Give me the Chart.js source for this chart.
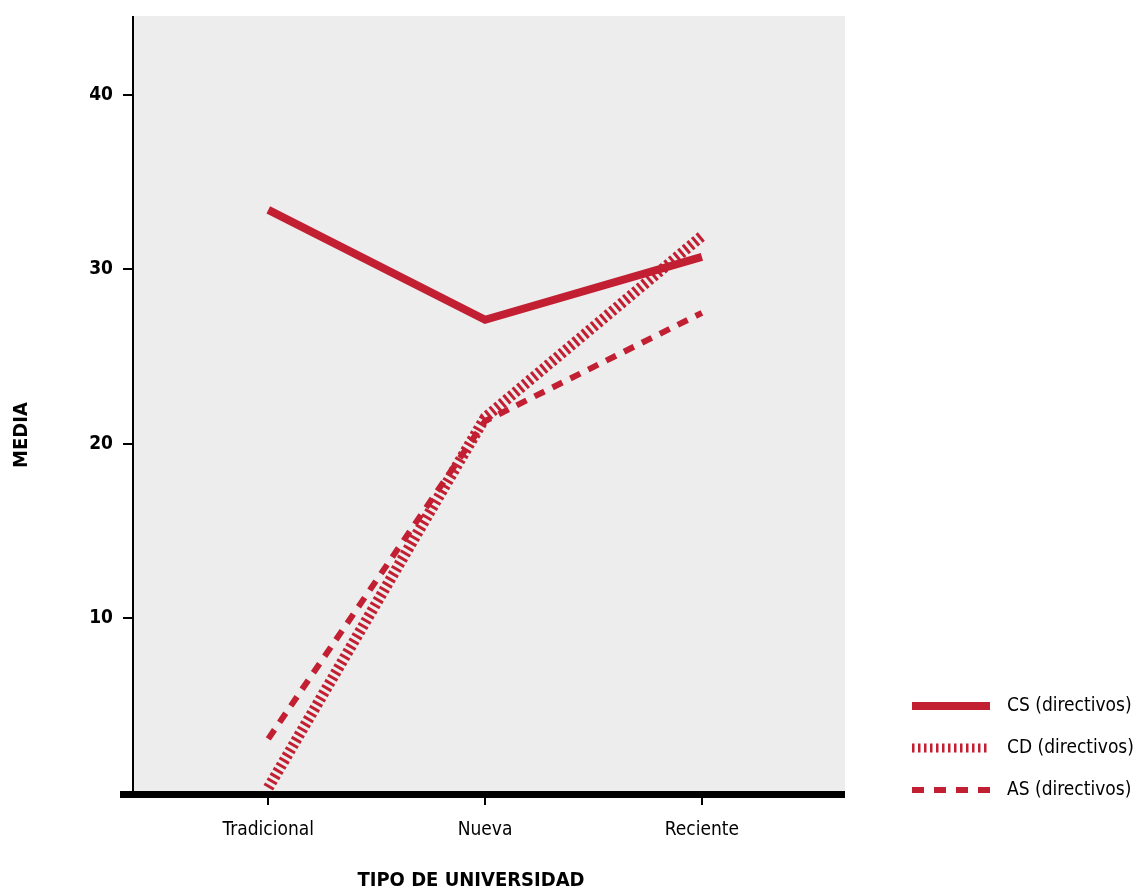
<!DOCTYPE html>
<html lang="es">
<head>
  <meta charset="UTF-8" />
  <title>Media por tipo de universidad</title>
  <script src="https://cdn.jsdelivr.net/npm/chart.js"></script>
  <style>
    body { margin: 0; background: #fff; }
  </style>
</head>
<body>
  <canvas id="lineChart" width="1138" height="890"></canvas>

  <script>
    const categories = ['Tradicional', 'Nueva', 'Reciente'];
    const seriesNames = ['CS (directivos)', 'CD (directivos)', 'AS (directivos)'];
    const csValues = [33.4, 27.1, 30.7];
    const cdValues = [0.3, 21.5, 31.9];
    const asValues = [3.1, 21.3, 27.5];
    const yTicks = [10, 20, 30, 40];

    const red = '#c21f32';
    const font = "'Liberation Sans Narrow', 'DejaVu Sans Condensed', 'Roboto', sans-serif";

    const toPoints = vals => vals.map((v, i) => ({ x: i, y: v }));

    // solid, striped, dashed
    const styles = [
      { width: 8, dash: [] },
      { width: 11, dash: [3, 3] },
      { width: 6, dash: [11, 9] }
    ];

    const decorations = {
      id: 'decorations',
      beforeDraw(chart) {
        const { ctx, chartArea: a } = chart;
        ctx.save();
        ctx.fillStyle = '#ededed';
        ctx.fillRect(a.left, a.top, a.right - a.left, a.bottom - a.top);
        ctx.restore();
      },
      afterDatasetsDraw(chart) {
        const { ctx, chartArea: a } = chart;
        ctx.save();
        // y axis line
        ctx.strokeStyle = '#000';
        ctx.lineWidth = 2;
        ctx.beginPath();
        ctx.moveTo(a.left, a.top);
        ctx.lineTo(a.left, a.bottom);
        ctx.stroke();
        // thick x axis
        ctx.lineWidth = 7;
        ctx.beginPath();
        ctx.moveTo(120, a.bottom + 1.5);
        ctx.lineTo(a.right, a.bottom + 1.5);
        ctx.stroke();

        // axis titles
        ctx.fillStyle = '#000';
        ctx.font = 'bold 20px ' + font;
        ctx.textAlign = 'center';
        ctx.textBaseline = 'middle';
        ctx.fillText('TIPO DE UNIVERSIDAD', 471, 881);
        ctx.save();
        ctx.translate(22, 435);
        ctx.rotate(-Math.PI / 2);
        ctx.fillText('MEDIA', 0, 0);
        ctx.restore();

        // legend
        const ys = [706, 748, 790];
        const legendStyles = [
          { width: 8, dash: [] },
          { width: 9, dash: [2.5, 3.5] },
          { width: 6, dash: [12, 10] }
        ];
        ctx.font = '19px ' + font;
        ctx.textAlign = 'left';
        chart.data.datasets.forEach((ds, i) => {
          ctx.strokeStyle = ds.borderColor;
          ctx.lineWidth = legendStyles[i].width;
          ctx.setLineDash(legendStyles[i].dash);
          ctx.lineCap = 'butt';
          ctx.beginPath();
          ctx.moveTo(912, ys[i]);
          ctx.lineTo(990, ys[i]);
          ctx.stroke();
          ctx.setLineDash([]);
          ctx.fillStyle = '#000';
          ctx.fillText(ds.label, 1007, ys[i]);
        });
        ctx.restore();
      }
    };

    const datasets = [csValues, cdValues, asValues].map((vals, i) => ({
      label: seriesNames[i],
      data: toPoints(vals),
      borderColor: red,
      borderWidth: styles[i].width,
      borderDash: styles[i].dash,
      borderCapStyle: 'butt',
      borderJoinStyle: 'miter',
      pointRadius: 0,
      fill: false,
      tension: 0
    }));

    new Chart(document.getElementById('lineChart').getContext('2d'), {
      type: 'line',
      data: { datasets },
      options: {
        responsive: false,
        animation: false,
        layout: { padding: { top: 16, right: 293, left: 0, bottom: 0 } },
        plugins: {
          legend: { display: false },
          tooltip: { enabled: false }
        },
        scales: {
          x: {
            type: 'linear',
            min: -0.624,
            max: 2.66,
            afterBuildTicks: scale => { scale.ticks = categories.map((c, i) => ({ value: i })); },
            afterFit: scale => { scale.height = 97; scale.paddingLeft = 0; scale.paddingRight = 0; },
            border: { display: false },
            grid: { drawOnChartArea: false, drawTicks: true, tickLength: 12, lineWidth: 2, color: '#000' },
            ticks: {
              padding: 14,
              color: '#000',
              font: { family: font, size: 19 },
              callback: v => categories[v]
            }
          },
          y: {
            min: 0,
            max: 44.5,
            afterBuildTicks: scale => { scale.ticks = yTicks.map(v => ({ value: v })); },
            afterFit: scale => { scale.width = 133; scale.paddingTop = 0; scale.paddingBottom = 0; },
            border: { display: false },
            grid: { drawOnChartArea: false, drawTicks: true, tickLength: 10, lineWidth: 2, color: '#000' },
            ticks: {
              padding: 10,
              color: '#000',
              font: { family: font, size: 19, weight: 'bold' }
            }
          }
        }
      },
      plugins: [decorations]
    });
  </script>
</body>
</html>
